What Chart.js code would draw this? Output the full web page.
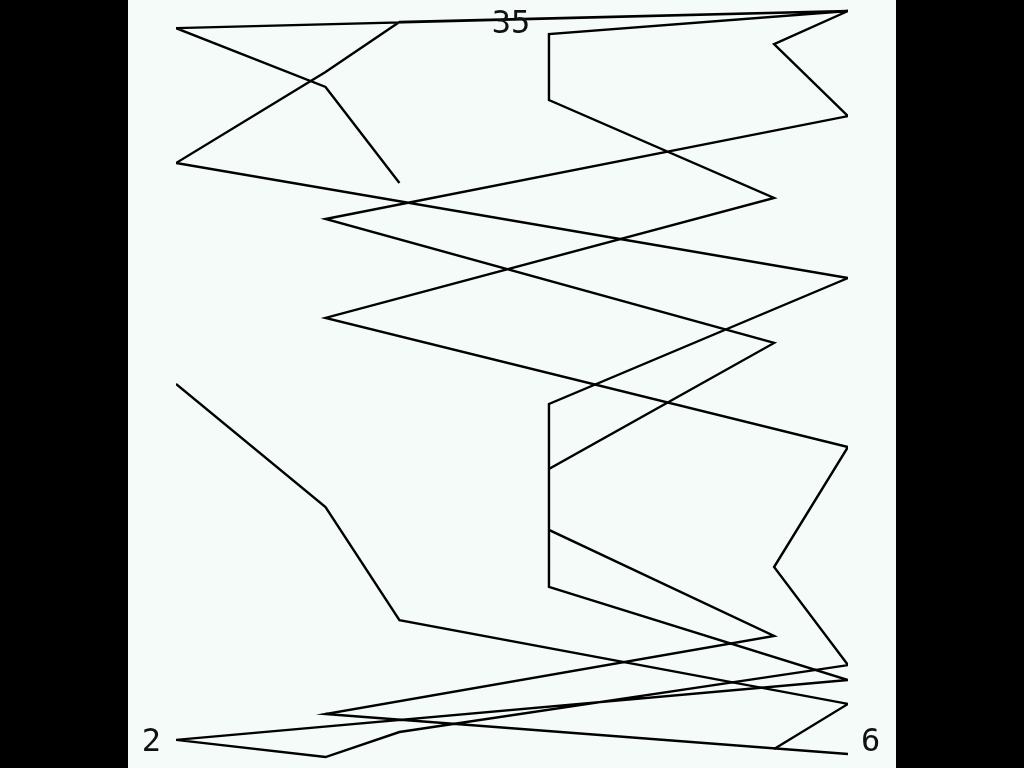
<!DOCTYPE html>
<html>
<head>
<meta charset="utf-8">
<script src="https://cdn.jsdelivr.net/npm/chart.js@4/dist/chart.umd.min.js"></script>
<style>
  html, body { margin: 0; padding: 0; background: #000; width: 1024px; height: 768px; overflow: hidden; }
  #wrap { position: absolute; left: 128px; top: 0; width: 768px; height: 768px; background: #f5fbf8; }
  canvas { display: block; }
</style>
</head>
<body>
<div id="wrap"><canvas id="c" width="768" height="768"></canvas></div>
<script>
// ---- data ----
const seriesAX = [2, 2.89, 3.33, 6, 5.56];
const seriesAY = [17.50, 11.89, 6.74, 2.92, 0.87];

const seriesBX = [3.33, 2.89, 2, 6, 3.33, 2.89, 2, 6, 4.22, 4.22, 6, 2, 2.89, 3.33, 6, 5.56, 6, 2.89, 5.56, 4.22, 4.22, 6, 5.56, 6, 2.89, 5.56, 4.22, 4.22, 5.56, 2.89, 6];
const seriesBY = [26.66, 31.04, 33.72, 34.50, 34.00, 31.72, 27.57, 22.33, 16.59, 8.25, 4.01, 1.28, 0.50, 1.64, 4.69, 9.16, 14.63, 20.51, 25.98, 30.44, 33.45, 34.50, 32.99, 29.71, 25.02, 19.37, 13.63, 10.85, 6.02, 2.46, 0.64];

const xMin = 2, xMax = 6;
const yMin = 0, yMax = 35;
const tickLabels = { xMin: '2', xMax: '6', yMax: '35' };

function pts(xs, ys) { return xs.map((x, i) => ({ x: x, y: ys[i] })); }

const labelPlugin = {
  id: 'edgeLabels',
  afterDatasetsDraw(chart) {
    const ctx = chart.ctx;
    const xs = chart.scales.x, ys = chart.scales.y;
    ctx.save();
    ctx.fillStyle = '#111';
    ctx.font = '32px "DejaVu Sans Mono", monospace';
    ctx.textBaseline = 'alphabetic';
    ctx.textAlign = 'right';
    ctx.fillText(tickLabels.xMin, xs.getPixelForValue(xMin) - 15, ys.bottom - 17);
    ctx.textAlign = 'left';
    ctx.fillText(tickLabels.xMax, xs.getPixelForValue(xMax) + 13, ys.bottom - 17);
    ctx.textAlign = 'center';
    ctx.fillText(tickLabels.yMax, (xs.left + xs.right) / 2 - 1, ys.getPixelForValue(yMax) + 33);
    ctx.restore();
  }
};

const common = { showLine: true, borderColor: '#000', borderWidth: 2.4, pointRadius: 0, tension: 0, fill: false };

new Chart(document.getElementById('c'), {
  type: 'scatter',
  data: {
    datasets: [
      Object.assign({ label: 'A', data: pts(seriesAX, seriesAY) }, common),
      Object.assign({ label: 'B', data: pts(seriesBX, seriesBY) }, common)
    ]
  },
  options: {
    responsive: false,
    animation: false,
    layout: { padding: { left: 48, right: 48, top: 0, bottom: 0 } },
    plugins: { legend: { display: false }, tooltip: { enabled: false }, title: { display: false } },
    scales: {
      x: { type: 'linear', min: xMin, max: xMax, display: false },
      y: { type: 'linear', min: yMin, max: yMax, display: false }
    }
  },
  plugins: [labelPlugin]
});
</script>
</body>
</html>
